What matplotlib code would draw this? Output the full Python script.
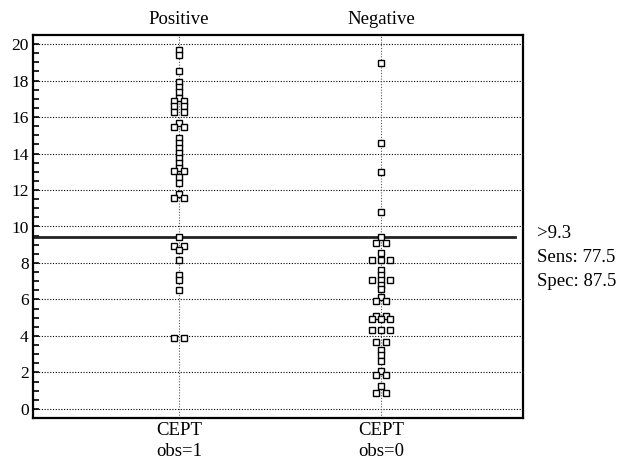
import numpy as np
import matplotlib.pyplot as plt
from matplotlib.ticker import MultipleLocator

plt.rcParams['font.family'] = ['Liberation Serif', 'DejaVu Serif']

# 數值
groups = ['Positive', 'Negative']
group_labels = ['CEPT\nobs=1', 'CEPT\nobs=0']

pos_values = [19.7, 19.4, 18.5, 17.95, 17.65, 17.35, 17.05,
              16.9, 16.9, 16.6, 16.6, 16.28, 16.28,
              15.67, 15.45, 15.45,
              14.85, 14.57, 14.3, 14.02, 13.75, 13.47, 13.2,
              13.05, 13.05, 12.7, 12.4,
              11.78, 11.59, 11.59, 9.42,
              8.95, 8.95, 8.73, 8.16, 7.36, 7.07, 6.54, 3.89, 3.89]

neg_values = [18.95, 14.6, 13.0, 10.8, 9.4,
              9.12, 9.12, 8.55, 8.18, 8.18, 8.18,
              7.63, 7.36, 7.09, 7.09, 7.09, 6.81, 6.57,
              6.14, 5.92, 5.92, 5.12, 5.12, 4.95, 4.95, 4.95,
              4.35, 4.35, 4.35, 3.66, 3.66, 3.25, 2.95, 2.65,
              2.06, 1.88, 1.88, 1.25, 0.88, 0.88]

cutoff = 9.4
criterion_text = ['>9.3', 'Sens: 77.5', 'Spec: 87.5']


def dot_offsets(vals, step):
    # 同一數值排成一列，左右置中
    vals = np.asarray(vals)
    offs = np.zeros(len(vals))
    for v in np.unique(vals):
        idx = np.where(vals == v)[0]
        n = len(idx)
        offs[idx] = (np.arange(n) - (n - 1) / 2) * step
    return offs


fig = plt.figure(figsize=(6.21, 4.65), dpi=100)
ax = fig.add_axes([33 / 621, 1 - 418 / 465, 490 / 621, 383 / 465])

step = 0.0465
for i, vals in enumerate([pos_values, neg_values]):
    xpos = i + 1
    ax.axvline(xpos, color='0.35', ls=(0, (1, 1.5)), lw=0.8, zorder=1)
    ax.plot(xpos + dot_offsets(vals, step), vals, 's', ms=3.9,
            mfc='white', mec='black', mew=1.0, zorder=3, clip_on=False)
    ax.text(xpos, 1.04, groups[i], transform=ax.get_xaxis_transform(),
            ha='center', va='center', fontsize=13.5)

ax.axhline(cutoff, xmin=0, xmax=0.984, color='#222222', lw=2, zorder=2)

ax.set_xlim(0.277, 2.703)
ax.set_ylim(-0.5, 20.5)
ax.set_xticks([1, 2])
ax.set_xticklabels(group_labels, fontsize=13.5, linespacing=1.3)
ax.tick_params(axis='x', length=0, pad=3)
ax.yaxis.set_major_locator(MultipleLocator(2))
ax.yaxis.set_minor_locator(MultipleLocator(0.5))
ax.tick_params(axis='y', which='both', direction='in', length=4.3,
               width=1.2, labelsize=12.5, pad=3)
ax.yaxis.grid(True, which='major', color='black', ls=(0, (1, 1.5)), lw=0.8)
ax.set_axisbelow(True)
for s in ax.spines.values():
    s.set_linewidth(1.6)

for j, t in enumerate(criterion_text):
    fig.text(537 / 621, 1 - (233 + 24.5 * j) / 465, t,
             ha='left', va='center', fontsize=13.5)

fig.savefig('out.png', dpi=100)
